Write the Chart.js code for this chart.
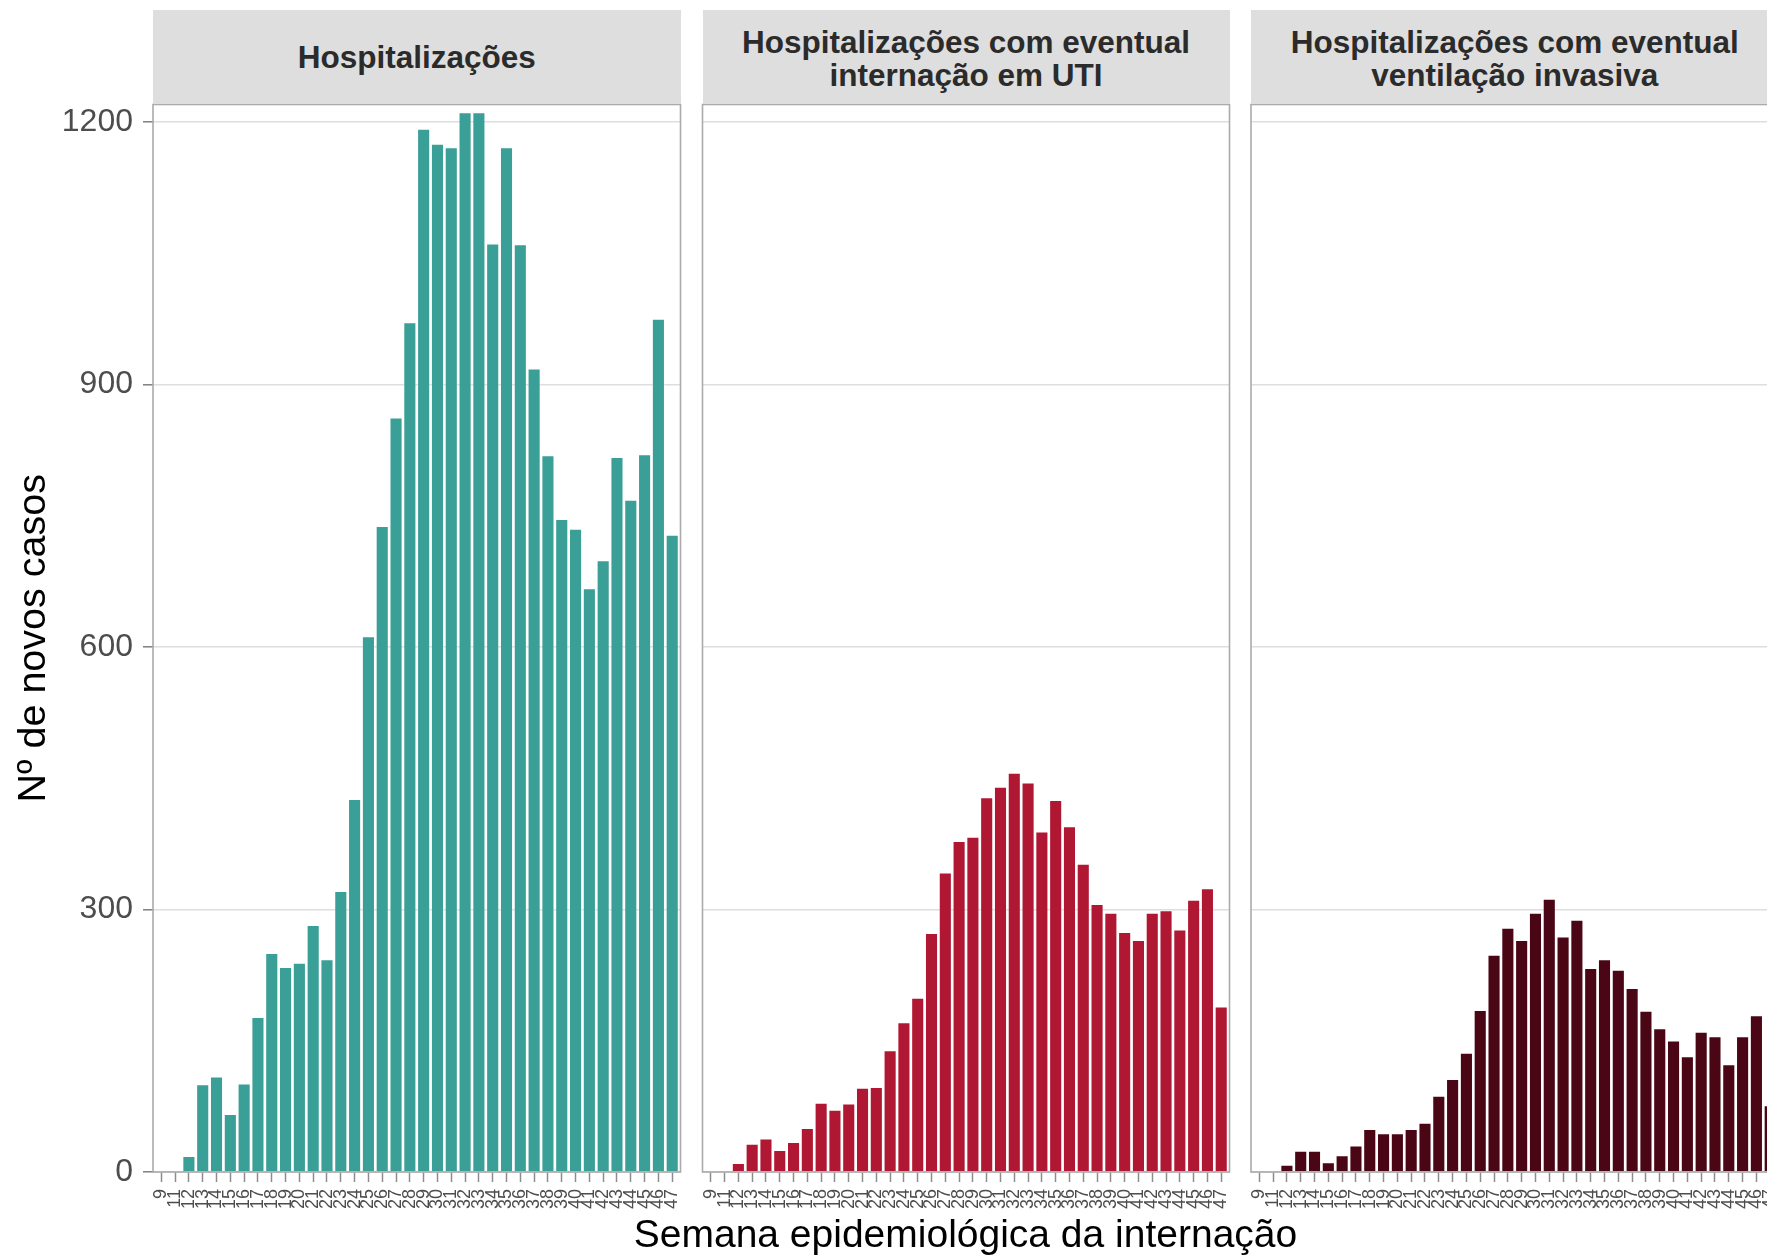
<!DOCTYPE html>
<html lang="pt">
<head>
<meta charset="utf-8">
<title>Novos casos por semana epidemiológica</title>
<script src="https://cdn.jsdelivr.net/npm/chart.js@4.4.1/dist/chart.umd.min.js"></script>
<style>
  html, body { margin: 0; padding: 0; background: #fff; overflow: hidden; }
  #page {
    position: relative; width: 1767px; height: 1257px; overflow: hidden;
    font-family: "Liberation Sans", Arial, sans-serif;
  }
  canvas { position: absolute; top: 98px; }
  .strip {
    position: absolute; top: 10px; height: 94px; box-sizing: border-box;
    background: #dedede; color: #2b2b2b;
    font-weight: bold; font-size: 31.5px; line-height: 33px;
    display: flex; align-items: center; justify-content: center; text-align: center;
  }
  .strip.two { padding-top: 4px; }
  #xtitle {
    position: absolute; left: 153px; width: 1625px; top: 1214px;
    text-align: center; font-size: 39px; line-height: 39px; color: #000;
  }
</style>
</head>
<body>
<div id="page">
  <canvas id="p1"></canvas>
  <canvas id="p2"></canvas>
  <canvas id="p3"></canvas>
  <div class="strip" id="s1"></div>
  <div class="strip two" id="s2"></div>
  <div class="strip two" id="s3"></div>
  <div id="xtitle"></div>
</div>
<script>
// semanas epidemiológicas (eixo x)
const weeks = [9, 11, 12, 13, 14, 15, 16, 17, 18, 19, 20, 21, 22, 23, 24, 25, 26, 27, 28,
  29, 30, 31, 32, 33, 34, 35, 36, 37, 38, 39, 40, 41, 42, 43, 44, 45, 46, 47];

// novos casos por semana
const hospitalizacoes = [1, 1, 18, 100, 109, 66, 101, 177, 250, 234, 239, 282, 243, 321, 426,
  612, 738, 862, 971, 1192, 1175, 1171, 1211, 1211, 1061, 1171, 1060, 918, 819, 746, 735,
  667, 699, 817, 768, 820, 975, 728];
const uti = [0, 1, 10, 32, 38, 25, 34, 50, 79, 71, 78, 96, 97, 139, 171, 199, 273, 342, 378,
  383, 428, 440, 456, 445, 389, 425, 395, 352, 306, 296, 274, 265, 296, 299, 277, 311, 324, 189];
const ventilacao = [0, 1, 8, 24, 24, 11, 19, 30, 49, 44, 44, 49, 56, 87, 106, 136, 185, 248,
  279, 265, 296, 312, 269, 288, 233, 243, 231, 210, 184, 164, 150, 132, 160, 155, 123, 155, 179, 76];

const yTicks = [0, 300, 600, 900, 1200];
const yMax = 1220;

const panelTitles = [
  "Hospitalizações",
  "Hospitalizações com eventual<br>internação em UTI",
  "Hospitalizações com eventual<br>ventilação invasiva"
];
const yTitle = "Nº de novos casos";
const xTitle = "Semana epidemiológica da internação";

// ggplot discrete axis: 0.6 of a step on each side
const xMin = -0.6;
const xMax = weeks.length - 0.4;

Chart.defaults.font.family = '"Liberation Sans", Arial, sans-serif';

const panelBorder = {
  id: "panelBorder",
  afterDatasetsDraw(chart) {
    const { ctx, chartArea: a } = chart;
    ctx.save();
    ctx.strokeStyle = "#ababab";
    ctx.lineWidth = 1.6;
    ctx.strokeRect(a.left, a.top, a.right - a.left, a.bottom - a.top);
    ctx.restore();
  }
};

function makePanel(id, values, color, box, showY) {
  const canvas = document.getElementById(id);
  canvas.width = box.width;
  canvas.height = 1159;
  canvas.style.left = box.left + "px";

  return new Chart(canvas, {
    type: "bar",
    data: {
      datasets: [{
        data: values.map((v, i) => ({ x: i, y: v })),
        backgroundColor: color,
        borderColor: "rgba(255,255,255,0.45)",
        borderWidth: 0.8,
        barPercentage: 0.92,
        categoryPercentage: 1
      }]
    },
    options: {
      responsive: false,
      animation: false,
      layout: { padding: { left: box.padLeft, right: box.padRight, top: 6.5, bottom: 0 } },
      plugins: { legend: { display: false }, tooltip: { enabled: false } },
      scales: {
        x: {
          type: "linear",
          min: xMin,
          max: xMax,
          offset: false,
          border: { display: false },
          grid: {
            offset: false,
            drawOnChartArea: false,
            drawTicks: true,
            tickLength: 10,
            tickColor: "#8c8c8c",
            tickWidth: 1.5
          },
          ticks: {
            autoSkip: false,
            minRotation: 90,
            maxRotation: 90,
            padding: 7,
            color: "#4d4d4d",
            font: { size: 18 },
            callback: v => weeks[v]
          },
          afterBuildTicks: s => { s.ticks = weeks.map((w, i) => ({ value: i })); },
          afterFit: s => { s.height = 85; s.paddingLeft = 0; s.paddingRight = 0; }
        },
        y: {
          min: 0,
          max: yMax,
          border: { display: false },
          grid: {
            color: "#dedede",
            lineWidth: 1.6,
            drawTicks: showY,
            tickLength: 10,
            tickColor: "#7f7f7f",
            tickWidth: 1.5
          },
          ticks: {
            display: showY,
            padding: 10,
            color: "#4d4d4d",
            font: { size: 32 },
            callback: v => String(v)
          },
          title: {
            display: showY,
            text: yTitle,
            color: "#000",
            font: { size: 39.5 },
            padding: { top: 6, bottom: 0 }
          },
          afterBuildTicks: s => { s.ticks = yTicks.map(v => ({ value: v })); },
          afterFit: s => { s.width = box.axisWidth; s.paddingTop = 0; s.paddingBottom = 0; }
        }
      }
    },
    plugins: [panelBorder]
  });
}

makePanel("p1", hospitalizacoes, "#3a9f96",
  { left: 0, width: 690, padLeft: 4, padRight: 9.5, axisWidth: 149 }, true);
makePanel("p2", uti, "#b01733",
  { left: 690, width: 550, padLeft: 12.5, padRight: 10.5, axisWidth: 0 }, false);
makePanel("p3", ventilacao, "#4a0614",
  { left: 1240, width: 550, padLeft: 11, padRight: 11.5, axisWidth: 0 }, false);

// faixas de título dos painéis
const strips = [
  { id: "s1", left: 153, width: 527.5 },
  { id: "s2", left: 702.5, width: 527 },
  { id: "s3", left: 1251, width: 527.5 }
];
strips.forEach((s, i) => {
  const el = document.getElementById(s.id);
  el.style.left = s.left + "px";
  el.style.width = s.width + "px";
  el.innerHTML = panelTitles[i];
});
document.getElementById("xtitle").textContent = xTitle;
</script>
</body>
</html>
